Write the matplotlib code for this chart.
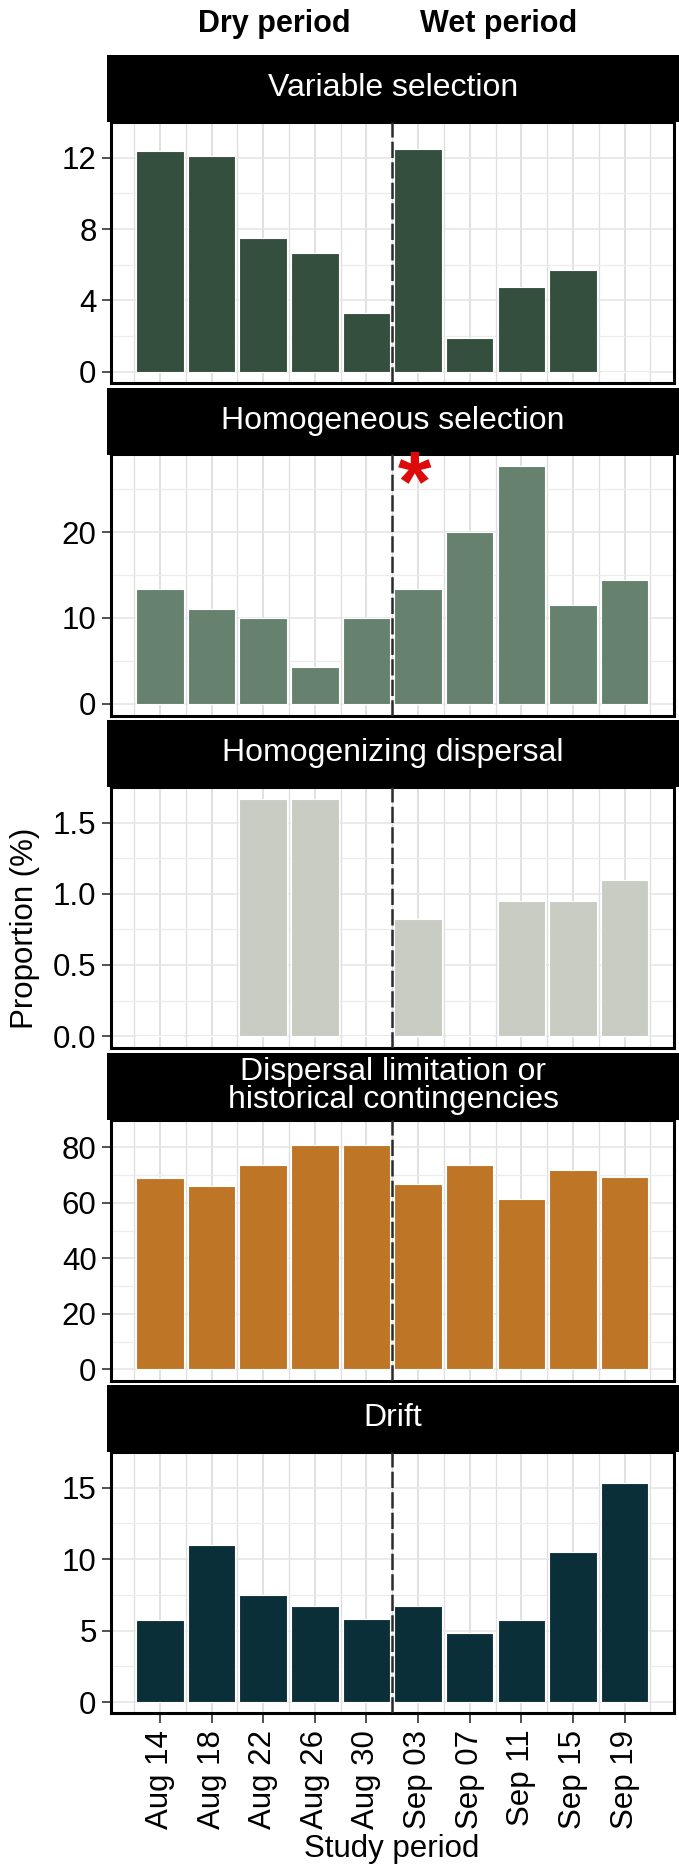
import matplotlib
matplotlib.use('Agg')
import matplotlib.pyplot as plt
import matplotlib.dates as mdates
import matplotlib.ticker as mticker
import numpy as np
import pandas as pd

plt.rcParams['font.family'] = ['Liberation Sans', 'DejaVu Sans']

# sampling dates (every 4 days) and tick labels
dates = pd.to_datetime(['2019-08-14', '2019-08-18', '2019-08-22', '2019-08-26', '2019-08-30',
                        '2019-09-03', '2019-09-07', '2019-09-11', '2019-09-15', '2019-09-19'])
date_labels = ['Aug 14', 'Aug 18', 'Aug 22', 'Aug 26', 'Aug 30',
               'Sep 03', 'Sep 07', 'Sep 11', 'Sep 15', 'Sep 19']

# proportion (%) of each assembly process per date
variable_selection = [12.38, 12.07, 7.48, 6.65, 3.31, 12.49, 1.91, 4.77, 5.71, 0]
homogeneous_selection = [13.35, 11.04, 10.0, 4.23, 10.0, 13.35, 20.0, 27.66, 11.5, 14.39]
homogenizing_dispersal = [0, 0, 1.667, 1.667, 0, 0.824, 0, 0.949, 0.949, 1.095]
dispersal_limitation = [68.8, 65.96, 73.5, 80.9, 80.9, 66.75, 73.5, 61.2, 71.7, 69.3]
drift = [5.76, 10.99, 7.49, 6.72, 5.82, 6.72, 4.8, 5.76, 10.49, 15.36]

panels = [
    ('Variable selection', variable_selection, '#344F3E', [0, 4, 8, 12], '%d'),
    ('Homogeneous selection', homogeneous_selection, '#66826F', [0, 10, 20], '%d'),
    ('Homogenizing dispersal', homogenizing_dispersal, '#C8CCC2', [0, 0.5, 1.0, 1.5], '%.1f'),
    ('Dispersal limitation or\nhistorical contingencies', dispersal_limitation, '#BE7626', [0, 20, 40, 60, 80], '%d'),
    ('Drift', drift, '#0B2F38', [0, 5, 10, 15], '%d'),
]

W, H = 679, 1868
fig = plt.figure(figsize=(W / 100, H / 100), dpi=100)

FS = 22.5
x_left, x_right = 110.5, 674
strip_h, ax_h, pitch, top0 = 67, 261, 332.5, 55

xnum = mdates.date2num(dates)
step = xnum[1] - xnum[0]
bar_w = step * 0.92
span = (xnum[-1] + bar_w / 2) - (xnum[0] - bar_w / 2)
xlim = (xnum[0] - bar_w / 2 - 0.05 * span, xnum[-1] + bar_w / 2 + 0.05 * span)
split = (xnum[4] + xnum[5]) / 2
minor_x = np.concatenate([xnum - step / 2, [xnum[-1] + step / 2]])

axes = []
for i, (title, vals, color, yt, fmt) in enumerate(panels):
    st = top0 + i * pitch
    # strip
    sax = fig.add_axes([107 / W, 1 - (st + strip_h) / H, (W - 107) / W, strip_h / H])
    sax.set_facecolor('black')
    sax.set_xticks([])
    sax.set_yticks([])
    for s in sax.spines.values():
        s.set_visible(False)
    sax.text(0.5, 0.5, title, color='white', fontsize=23, ha='center', va='center',
             transform=sax.transAxes, linespacing=0.95)

    ax = fig.add_axes([x_left / W, 1 - (st + strip_h + ax_h) / H,
                       (x_right - x_left) / W, ax_h / H])
    ax.bar(xnum, vals, width=bar_w, color=color, edgecolor='white', linewidth=0.8, zorder=3)
    ax.axvline(split, color='#2b2b2b', lw=1.8, dashes=(6.5, 1.7), zorder=4)
    vmax = max(vals)
    ax.set_ylim(-0.05 * vmax, 1.05 * vmax)
    ax.set_xlim(*xlim)
    ax.set_yticks(yt)
    ax.yaxis.set_major_formatter(mticker.FormatStrFormatter(fmt))
    ax.set_yticks([(a + b) / 2 for a, b in zip(yt[:-1], yt[1:])] + [yt[-1] + (yt[1] - yt[0]) / 2], minor=True)
    ax.set_xticks(xnum)
    ax.set_xticks(minor_x, minor=True)
    ax.grid(True, which='major', axis='y', color='#e6e6e6', lw=1.2, zorder=0)
    ax.grid(True, which='minor', axis='y', color='#ececec', lw=0.9, zorder=0)
    ax.grid(True, which='major', axis='x', color='#d9d9d9', lw=1.1, zorder=0)
    ax.grid(True, which='minor', axis='x', color='#dedede', lw=0.9, zorder=0)
    ax.tick_params(axis='y', which='major', length=6.5, width=1.2, color='#333333',
                   labelsize=FS, pad=3.5)
    ax.tick_params(which='minor', length=0)
    for s in ax.spines.values():
        s.set_linewidth(2.2)
        s.set_color('black')
    if i < len(panels) - 1:
        ax.tick_params(axis='x', which='major', length=0, labelbottom=False)
    else:
        ax.set_xticklabels(date_labels, rotation=90, fontsize=FS)
        ax.tick_params(axis='x', which='major', length=7, width=1.2, color='#333333', pad=5)
    axes.append(ax)

# significance marker on the homogeneous selection panel
axes[1].text(xnum[5] - 0.3, 22.6, '*', color='#DD0A0A', fontsize=62, fontweight='bold',
             ha='center', va='baseline', zorder=5)

fig.text(274 / W, 1 - 31.7 / H, 'Dry period', fontsize=22, fontweight='bold', ha='center', va='baseline')
fig.text(499 / W, 1 - 31.7 / H, 'Wet period', fontsize=22, fontweight='bold', ha='center', va='baseline')
fig.text(25 / W, 1 - 928 / H, 'Proportion (%)', fontsize=FS, rotation=90, ha='center', va='center')
fig.text(392 / W, 1 - 1857 / H, 'Study period', fontsize=FS, ha='center', va='baseline')

fig.savefig('out.png', dpi=100, facecolor='white')
